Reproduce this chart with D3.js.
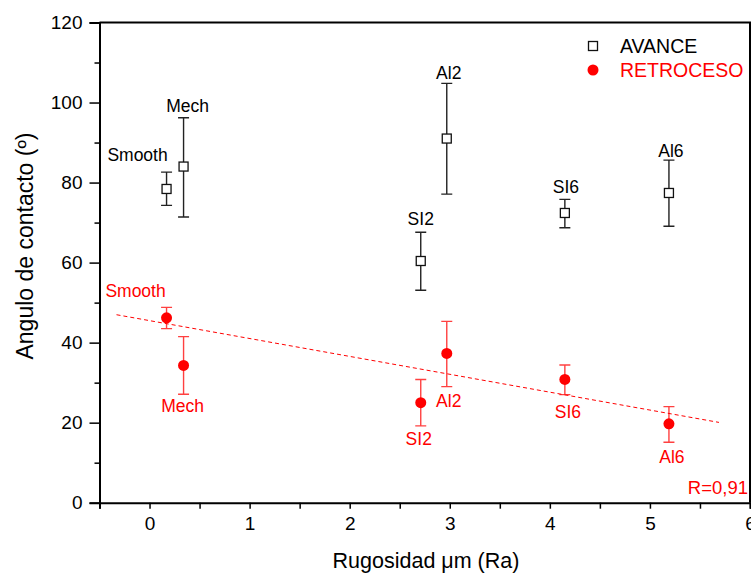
<!DOCTYPE html>
<html>
<head>
<meta charset="utf-8">
<script src="https://cdn.jsdelivr.net/npm/d3@7"></script>
<style>
  html, body { margin: 0; padding: 0; background: #fff; }
  svg { display: block; font-family: Arial, "Liberation Sans", sans-serif; }
</style>
</head>
<body>
<svg id="chart" width="751" height="575"></svg>
<script>
// Surface samples and their roughness (Ra, µm)
const samples   = ["Smooth", "Mech", "SI2", "Al2", "SI6", "Al6"];
const roughness = [0.17, 0.34, 2.71, 2.97, 4.15, 5.19];

// Advancing contact angle (º): mean, lower and upper error limits
const avance     = [78.4, 84.0, 60.4, 91.0, 72.4, 77.4];
const avanceLow  = [74.3, 71.4, 53.1, 77.1, 68.7, 69.1];
const avanceHigh = [82.6, 96.2, 67.6, 104.8, 75.8, 85.6];

// Receding contact angle (º): mean, lower and upper error limits
const retroceso     = [46.2, 34.3, 25.0, 37.3, 30.8, 19.7];
const retrocesoLow  = [43.5, 27.1, 19.2, 29.0, 27.0, 15.1];
const retrocesoHigh = [48.8, 41.5, 30.8, 45.3, 34.4, 24.0];

// Linear fit of the receding angle
const fitRange = [-0.33, 5.69];
const fitSlope = -4.47;
const fitIntercept = 45.5;
const fitLabel = "R=0,91";

const xTicks = [0, 1, 2, 3, 4, 5, 6];
const yTicks = [0, 20, 40, 60, 80, 100, 120];

// Pixel offsets of each sample label relative to its point (dx, dy)
const avanceLabelOffset    = [[-29, -28], [4, -55], [0, -36], [2, -60], [1, -20], [2, -36]];
const retrocesoLabelOffset = [[-31, -21], [-1, 47], [-2, 42], [2, 54], [3, 39], [3, 39]];

const svg = d3.select("#chart");
const m = { left: 99.5, right: 750, top: 22.5, bottom: 502.7 };

const x = d3.scaleLinear().domain([-0.5, 6]).range([m.left, m.right]);
const y = d3.scaleLinear().domain([0, 120]).range([m.bottom, m.top]);

const red = "#ff0000";
const ink = "#000";
const font = "Arial, 'Liberation Sans', sans-serif";

// Frame (top and right edges)
svg.append("path")
  .attr("d", `M${m.left},${m.top}H${m.right}V${m.bottom}`)
  .attr("fill", "none").attr("stroke", ink).attr("stroke-width", 2);

// Y axis: major labelled ticks, minor ticks between
const yAxis = svg.append("g").attr("transform", `translate(${m.left},0)`)
  .call(d3.axisLeft(y).tickValues(yTicks).tickSize(10).tickPadding(7).tickFormat(d3.format("d")));
yAxis.select(".domain").attr("stroke-width", 2);
yAxis.selectAll(".tick line").attr("stroke-width", 1.5);
yAxis.selectAll(".tick text").attr("font-size", 19).attr("fill", ink).attr("font-family", font);
svg.append("g").attr("transform", `translate(${m.left},0)`)
  .call(d3.axisLeft(y).tickValues(d3.range(10, 120, 20)).tickSize(5).tickFormat(""))
  .call(g => g.select(".domain").remove())
  .selectAll(".tick line").attr("stroke-width", 1.5);

// X axis: labelled integer ticks, unlabelled half-unit ticks
const xAxis = svg.append("g").attr("transform", `translate(0,${m.bottom})`)
  .call(d3.axisBottom(x).tickValues(xTicks).tickSize(6).tickPadding(8).tickFormat(d3.format("d")));
xAxis.select(".domain").attr("stroke-width", 2);
xAxis.selectAll(".tick line").attr("stroke-width", 1.5);
xAxis.selectAll(".tick text").attr("font-size", 19).attr("fill", ink).attr("font-family", font);
svg.append("g").attr("transform", `translate(0,${m.bottom})`)
  .call(d3.axisBottom(x).tickValues([-0.5, 0.5, 1.5, 2.5, 3.5, 4.5, 5.5]).tickSize(6).tickFormat(""))
  .call(g => g.select(".domain").remove())
  .selectAll(".tick line").attr("stroke-width", 1.5);

// Axis titles
svg.append("text")
  .attr("x", 426).attr("y", 568)
  .attr("text-anchor", "middle").attr("font-size", 21.5).attr("fill", ink)
  .text("Rugosidad \u03bcm (Ra)");
svg.append("text")
  .attr("transform", "translate(33,246) rotate(-90)")
  .attr("text-anchor", "middle").attr("font-size", 23).attr("fill", ink)
  .text("Angulo de contacto (\u00ba)");

// Linear fit (dashed)
svg.append("line")
  .attr("x1", x(fitRange[0])).attr("y1", y(fitIntercept + fitSlope * fitRange[0]))
  .attr("x2", x(fitRange[1])).attr("y2", y(fitIntercept + fitSlope * fitRange[1]))
  .attr("stroke", red).attr("stroke-width", 1).attr("stroke-dasharray", "4,3");

// Error bars
function errorBars(low, high, color, opacity) {
  const g = svg.append("g").attr("stroke", color).attr("stroke-width", 1.4)
    .attr("stroke-opacity", opacity).attr("fill", "none");
  roughness.forEach((r, i) => {
    const cx = x(r), y0 = y(low[i]), y1 = y(high[i]);
    g.append("path").attr("d", `M${cx},${y0}V${y1}M${cx - 5.5},${y0}H${cx + 5.5}M${cx - 5.5},${y1}H${cx + 5.5}`);
  });
}
errorBars(avanceLow, avanceHigh, "#222", 1);
errorBars(retrocesoLow, retrocesoHigh, red, 0.75);

// Advancing angle: open squares
svg.append("g").selectAll("rect").data(avance).join("rect")
  .attr("x", (d, i) => x(roughness[i]) - 4.5).attr("y", d => y(d) - 4.5)
  .attr("width", 9).attr("height", 9)
  .attr("fill", "#fff").attr("stroke", "#111").attr("stroke-width", 1.3);

// Receding angle: filled circles
svg.append("g").selectAll("circle").data(retroceso).join("circle")
  .attr("cx", (d, i) => x(roughness[i])).attr("cy", d => y(d)).attr("r", 5.5)
  .attr("fill", red);

// Sample labels
svg.append("g").attr("font-size", 17.5).attr("fill", ink).attr("text-anchor", "middle")
  .selectAll("text").data(avance).join("text")
  .attr("x", (d, i) => x(roughness[i]) + avanceLabelOffset[i][0])
  .attr("y", (d, i) => y(d) + avanceLabelOffset[i][1])
  .text((d, i) => samples[i]);
svg.append("g").attr("font-size", 17.5).attr("fill", red).attr("text-anchor", "middle")
  .selectAll("text").data(retroceso).join("text")
  .attr("x", (d, i) => x(roughness[i]) + retrocesoLabelOffset[i][0])
  .attr("y", (d, i) => y(d) + retrocesoLabelOffset[i][1])
  .text((d, i) => samples[i]);

// Fit coefficient
svg.append("text").attr("x", 748).attr("y", 494).attr("text-anchor", "end")
  .attr("font-size", 18.5).attr("fill", red).text(fitLabel);

// Legend
const legend = svg.append("g").attr("transform", "translate(593,46)");
legend.append("rect").attr("x", -4.5).attr("y", -4.5).attr("width", 9).attr("height", 9)
  .attr("fill", "#fff").attr("stroke", "#111").attr("stroke-width", 1.3);
legend.append("circle").attr("cx", 0).attr("cy", 24).attr("r", 5.5).attr("fill", red);
legend.append("text").attr("x", 27).attr("y", 7).attr("font-size", 19.5).attr("fill", ink).text("AVANCE");
legend.append("text").attr("x", 27).attr("y", 31).attr("font-size", 19.5).attr("fill", red).text("RETROCESO");
</script>
</body>
</html>
